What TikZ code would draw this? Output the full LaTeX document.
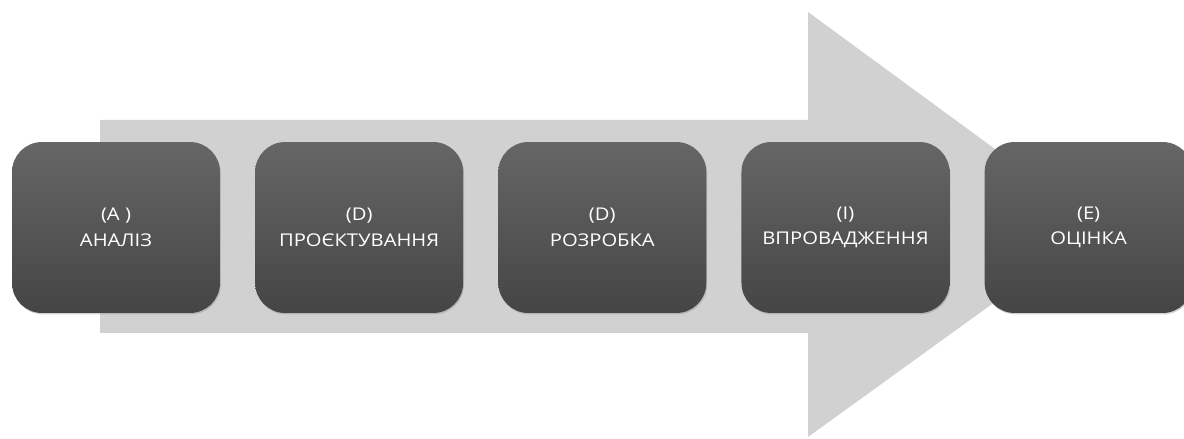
\documentclass[tikz,border=0pt]{standalone}
\usepackage{fontspec}
\setmainfont{Open Sans}[FakeStretch=1.15]
\usepackage{tikz}
\usetikzlibrary{positioning,shadows}
\definecolor{arrowgray}{HTML}{D1D1D1}
\definecolor{boxtop}{HTML}{666666}
\definecolor{boxbot}{HTML}{454545}

\begin{document}
\begin{tikzpicture}[x=0.02cm, y=0.02cm,
  phase/.style={rounded corners=0.6cm, minimum width=4.16cm, minimum height=3.42cm,
    top color=boxtop, bottom color=boxbot, text=white, align=center,
    font=\fontsize{10}{14.5}\selectfont, inner sep=0pt,
    drop shadow={shadow xshift=0.5pt, shadow yshift=-0.8pt, opacity=0.35}},
  node distance=0.69cm]
\useasboundingbox (0, 0) rectangle (1184, 439);
\fill[arrowgray] (100, 319) -- (808, 319) -- (808, 427) -- (1100, 213) -- (808, 2) -- (808, 106) -- (100, 106) -- cycle;
\node[phase] (analiz) at (116, 211.5) {(A )\\АНАЛІЗ};
\node[phase, right=of analiz] (proekt) {(D)\\ПРОЄКТУВАННЯ};
\node[phase, right=of proekt] (rozrob) {(D)\\РОЗРОБКА};
\node[phase, right=of rozrob] (vprov) {(I)\\ВПРОВАДЖЕННЯ};
\node[phase, right=of vprov] (ocinka) {(E)\\ОЦІНКА};
\end{tikzpicture}
\end{document}
